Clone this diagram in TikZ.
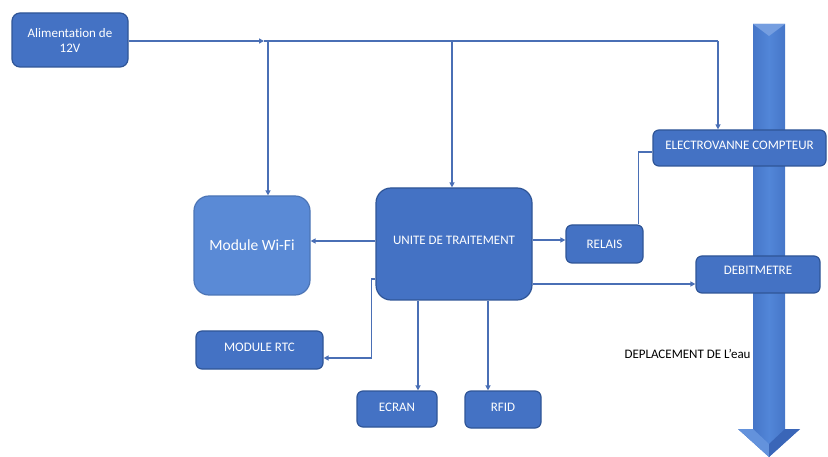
\documentclass[tikz,border=0pt]{standalone}
\usepackage{fontspec}
\setmainfont{Carlito}[Ligatures=NoCommon]
\usetikzlibrary{arrows.meta}
\definecolor{boxfill}{HTML}{4472C4}
\definecolor{boxline}{HTML}{2F5597}
\definecolor{wififill}{HTML}{5A8AD6}
\definecolor{conn}{HTML}{4A6FB5}
\definecolor{arrdark}{HTML}{3A66B8}
\definecolor{arrlight}{HTML}{5286D8}
\tikzset{
  blk/.style={draw=boxline, line width=1.2pt, fill=boxfill, text=white, rounded corners=6pt, align=center, inner sep=2pt, font=\fontsize{13}{15}\selectfont},
  cn/.style={draw=conn, line width=1.3pt},
  tip/.style={-{Triangle[length=5pt,width=5pt]}},
}
\begin{document}
\begin{tikzpicture}[x=1pt,y=-1pt]
\useasboundingbox (0,0) rectangle (828,457);
% big water arrow
\shade[left color=arrdark, right color=arrdark, middle color=arrlight, shading angle=90]
  (753,24) -- (785,24) -- (785,429) -- (800,429) -- (769,457) -- (738,429) -- (753,429) -- cycle;
\fill[arrlight!80!white] (753,24) -- (785,24) -- (769,36) -- cycle;
\fill[arrlight!90!white] (738,429) -- (753,429) -- (769,444) -- (769,457) -- cycle;
\fill[arrdark] (800,429) -- (785,429) -- (769,444) -- (769,457) -- cycle;

% nodes
\node[blk, minimum width=116pt, minimum height=54pt, rounded corners=8pt] (alim) at (70,40) {Alimentation de\\12V};
\node[blk, fill=wififill, draw=wififill!85!black, minimum width=116pt, minimum height=99pt, rounded corners=15pt, font=\fontsize{15.5}{17}\selectfont] (wifi) at (252,245.5) {Module Wi-Fi};
\node[blk, minimum width=156pt, minimum height=112pt, rounded corners=15pt, text depth=7pt] (unite) at (454,244) {UNITE DE TRAITEMENT};
\node[blk, minimum width=77pt, minimum height=38pt] (relais) at (604.5,244) {RELAIS};
\node[blk, minimum width=173pt, minimum height=36pt, text depth=6pt] (elec) at (739.5,148) {ELECTROVANNE COMPTEUR};
\node[blk, minimum width=124pt, minimum height=37pt, text depth=8pt] (debit) at (758,274.5) {DEBITMETRE};
\node[blk, minimum width=127pt, minimum height=38pt, text depth=6pt] (rtc) at (259.5,350) {MODULE RTC};
\node[blk, minimum width=80pt, minimum height=36pt, text depth=4pt] (ecran) at (397,409) {ECRAN};
\node[blk, minimum width=76pt, minimum height=37pt, text depth=4pt] (rfid) at (503,409.5) {RFID};
\node[anchor=west, font=\fontsize{13}{15}\selectfont, text=black] (dep) at (621,354) {DEPLACEMENT DE L’eau};

% supply bus
\coordinate (a0) at (alim.east |- 0,41);
\coordinate (a1) at (264,41);
\coordinate (j1) at (268,41);
\coordinate (j2) at (452,41);
\coordinate (j3) at (718,41);
\draw[cn, tip] (a0) -- (a1);
\draw[cn] (a1) -- (j3);
\draw[cn, tip] (j1) -- (j1 |- wifi.north);
\draw[cn, tip] (j2) -- (j2 |- unite.north);
\draw[cn, tip] (j3) -- (j3 |- elec.north);

% processing unit links
\draw[cn, tip] (unite.west |- 0,241) -- (wifi.east |- 0,241);
\draw[cn, tip] (unite.east |- 0,240) -- (relais.west |- 0,240);
\coordinate (d1) at ([yshift=-9.5pt]debit.west);
\draw[cn, tip] (unite.east |- d1) -- (d1);
\coordinate (r1) at ([xshift=-5pt]relais.north east);
\coordinate (e0) at ([yshift=-4pt]elec.west);
\draw[cn] (r1) |- (e0);
\coordinate (u1) at ([yshift=-35pt]unite.west);
\coordinate (m1) at ([yshift=-8pt]rtc.east);
\draw[cn, tip] (u1) -- ++(-4,0) |- (m1);
\coordinate (e1) at ([xshift=21pt]ecran.north);
\draw[cn, tip] (unite.south -| e1) -- (e1);
\coordinate (f1) at ([xshift=-15pt]rfid.north);
\draw[cn, tip] (unite.south -| f1) -- (f1);
\end{tikzpicture}
\end{document}
